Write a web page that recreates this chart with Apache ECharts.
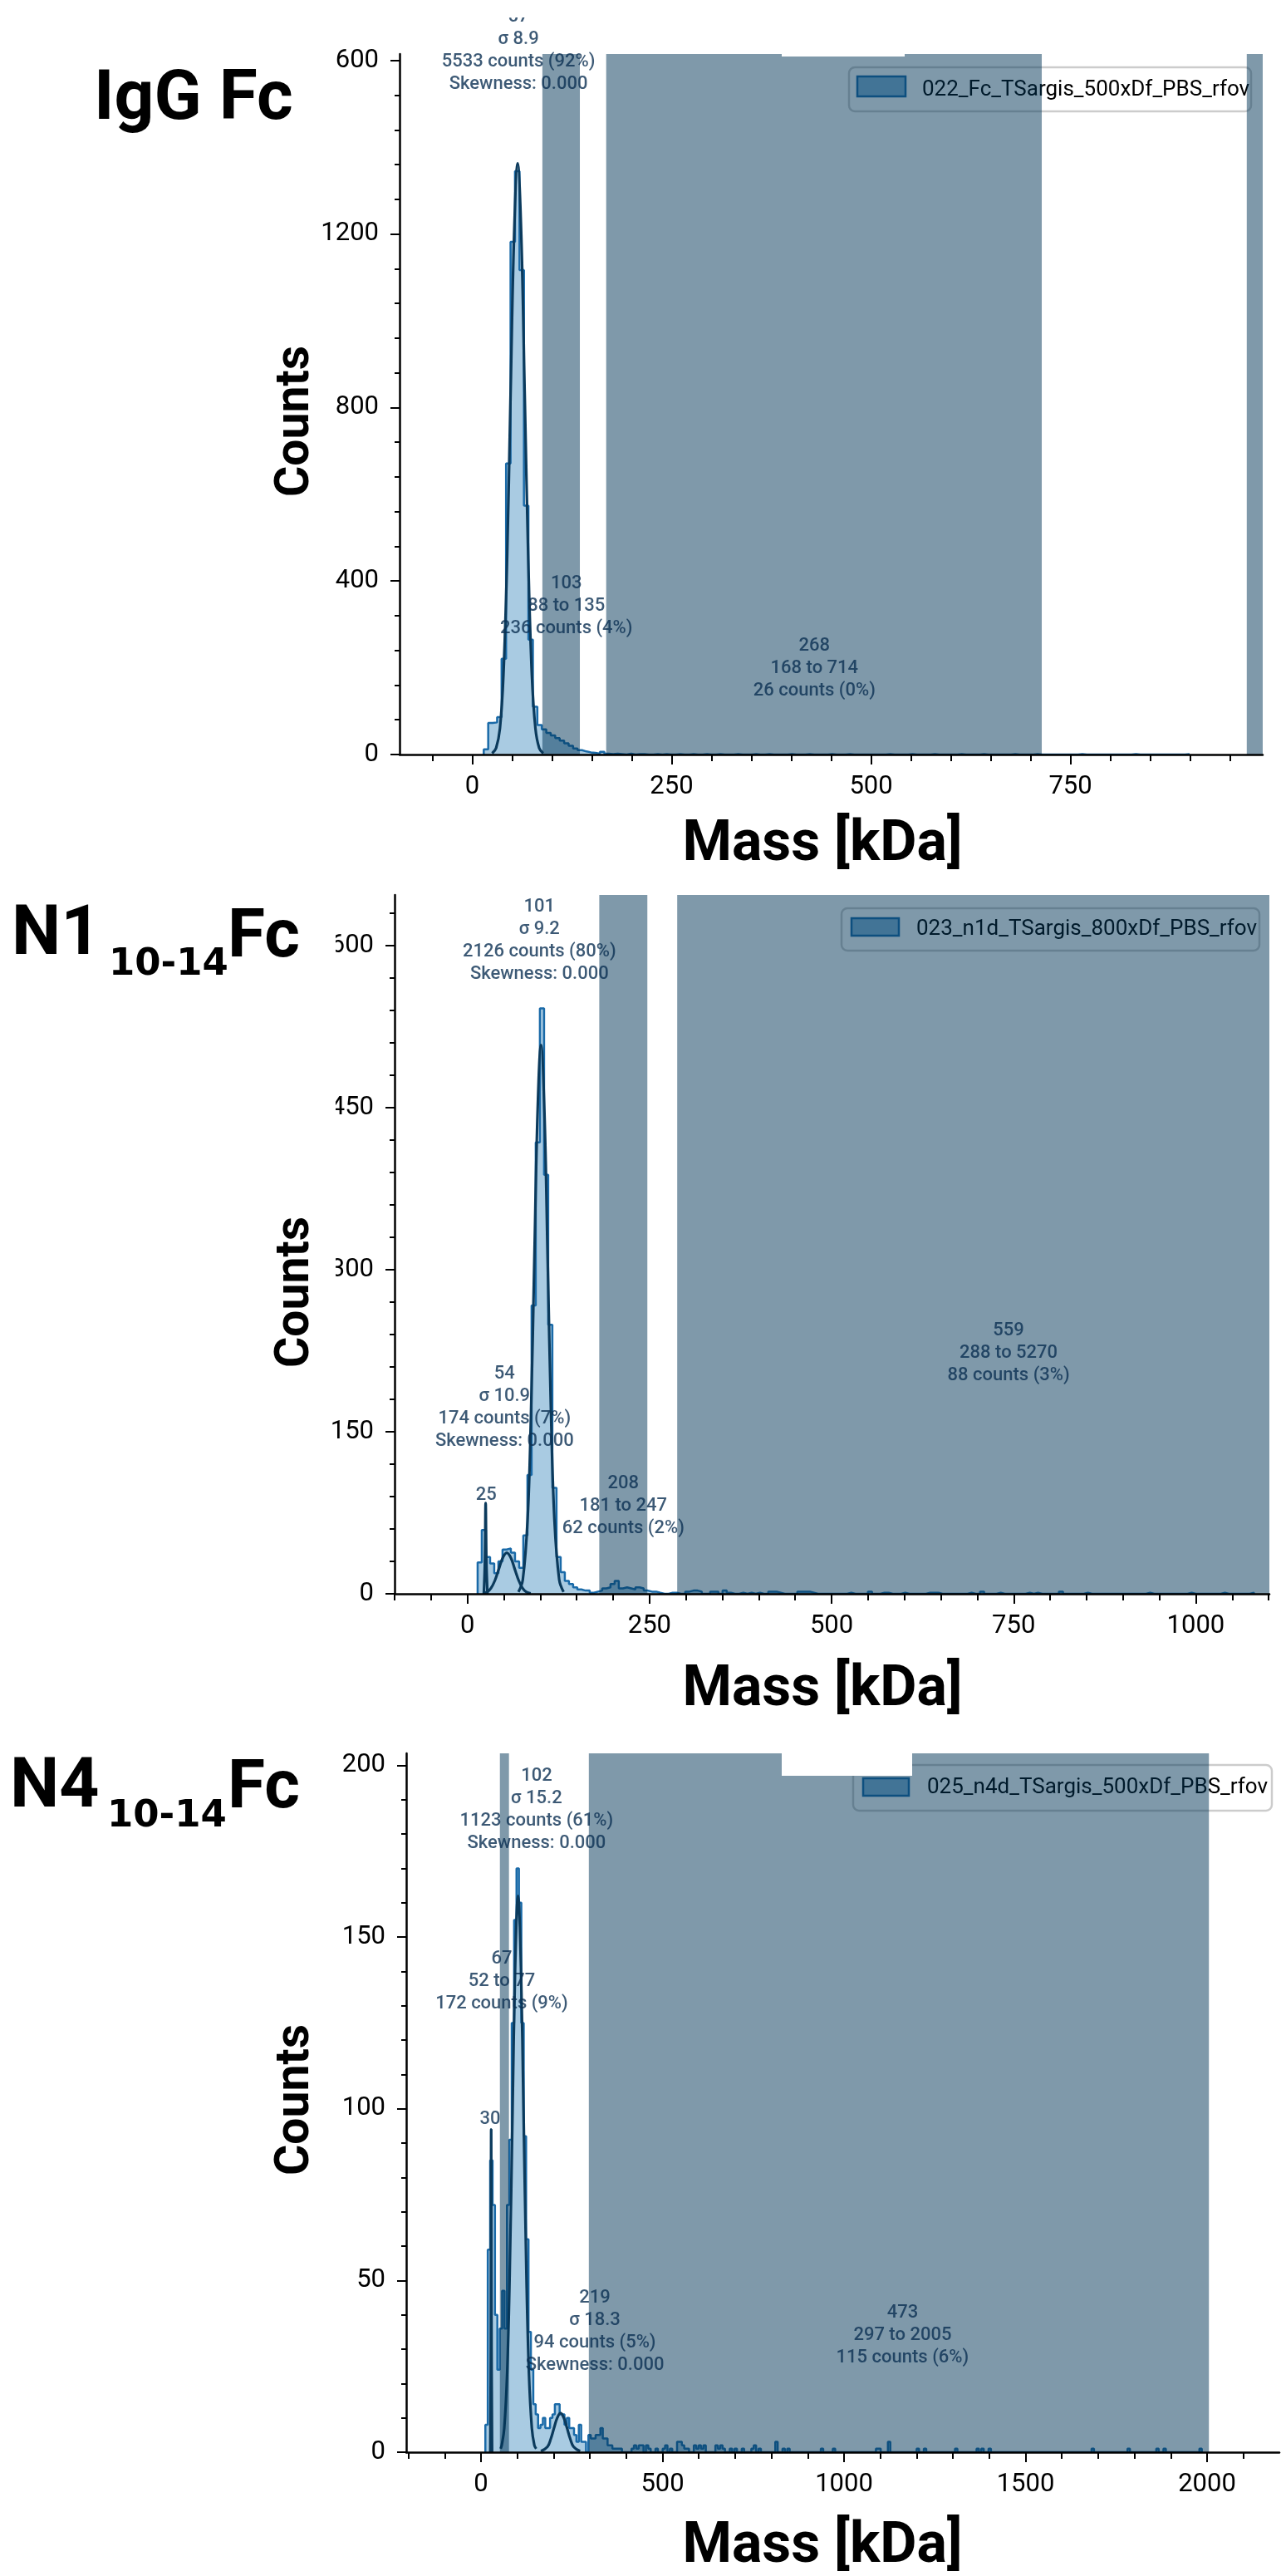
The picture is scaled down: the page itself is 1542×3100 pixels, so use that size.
<!DOCTYPE html>
<html>
<head>
<meta charset="utf-8">
<title>Mass photometry histograms</title>
<script src="https://cdn.jsdelivr.net/npm/echarts@6/dist/echarts.min.js"></script>
<style>
  html, body { margin: 0; padding: 0; background: #fff; }
  #chart { width: 1542px; height: 3100px; }
</style>
</head>
<body>
<div id="chart"></div>
<script>
// ---- IgG Fc ----
const fcBinStart = 14.5
const fcBinWidth = 5.6
const fcCounts = [12, 73, 74, 86, 221, 671, 1182, 1345, 1117, 574, 265, 110, 68,
  58, 50, 44, 38, 32, 26, 20, 14, 10, 7, 5, 4, 2, 6, 2, 1]
// sparse low bins [kDa, counts]
const fcTail = [[182, 2], [188, 1], [199, 2], [205, 1], [216, 1], [232, 1], [244, 1], [260, 1],
  [277, 1], [290, 1], [310, 1], [330, 1], [352, 1], [372, 1], [398, 1], [420, 1], [446, 1],
  [470, 1], [520, 1], [548, 1], [575, 1], [610, 1], [640, 1], [680, 1], [705, 1], [760, 1],
  [830, 1], [895, 1]]
const fcFit = [[25, 3], [30, 15], [34.8, 60], [39.2, 184], [43.7, 443], [48.1, 827], [52.6, 1200],
  [57, 1363], [61.5, 1200], [65.9, 827], [70.4, 443], [74.8, 184], [79.3, 60], [84, 15], [89, 3]]
const fcRegions = [[88, 135], [168, 714], [971, 1100]]
const fcNotes = [
  [58, 1622, '57\nσ 8.9\n5533 counts (92%)\nSkewness: 0.000'],
  [118, 342, '103\n88 to 135\n236 counts (4%)'],
  [429, 199, '268\n168 to 714\n26 counts (0%)']
]
const fcXTicks = [0, 250, 500, 750]
const fcYTicks = [0, 400, 800, 1200, 1600]

// ---- N1 10-14 Fc ----
const n1BinStart = 14
const n1BinWidth = 5.7
const n1Counts = [29, 59, 34, 28, 19, 30, 41, 42, 38, 30, 24, 54, 110, 267, 418, 542, 388, 249,
  98, 34, 20, 12, 9, 6, 4, 3, 3, 1, 2, 3, 5, 6, 9, 12, 5, 6, 5, 4, 6, 5, 3, 2, 2, 1, 0, 0, 1, 1]
const n1Tail = [[303, 2], [309, 3], [315, 3], [321, 2], [337, 2], [343, 2], [355, 3], [361, 1],
  [378, 1], [389, 1], [397, 1], [418, 2], [424, 2], [430, 1], [455, 2], [461, 2], [467, 2],
  [473, 1], [524, 1], [555, 2], [570, 1], [575, 1], [596, 1], [634, 1], [640, 1], [646, 1],
  [687, 1], [705, 2], [728, 1], [772, 1], [778, 1], [815, 2], [847, 1], [934, 1], [994, 1],
  [1035, 1], [1078, 1]]
const n1FitLow = [[22.5, 0], [24, 30], [25, 84], [26, 30], [27.5, 0]]
const n1FitMid = [[21, 0.4], [27, 1.6], [32.2, 5.1], [37.7, 12.3], [43.1, 23], [48.6, 33.5], [54, 38],
  [59.5, 33.5], [64.9, 23], [70.4, 12.3], [75.8, 5.1], [81, 1.6], [87, 0.4]]
const n1FitMain = [[70, 1.7], [76, 13], [82.6, 69], [87.2, 165], [91.8, 308], [96.4, 448], [101, 508],
  [105.6, 448], [110.2, 308], [114.8, 165], [119.4, 69], [126, 13], [132, 1.7]]
const n1Regions = [[181, 247], [288, 5270]]
const n1Notes = [
  [98.8, 605, '101\nσ 9.2\n2126 counts (80%)\nSkewness: 0.000'],
  [50.9, 172, '54\nσ 10.9\n174 counts (7%)\nSkewness: 0.000'],
  [25.8, 91, '25'],
  [214, 81, '208\n181 to 247\n62 counts (2%)'],
  [743, 223, '559\n288 to 5270\n88 counts (3%)']
]
const n1XTicks = [0, 250, 500, 750, 1000]
const n1YTicks = [0, 150, 300, 450, 600]

// ---- N4 10-14 Fc ----
const n4BinStart = 12
const n4BinWidth = 6.6
const n4Counts = [8, 59, 85, 72, 40, 24, 36, 47, 36, 72, 91, 125, 155, 170, 160, 125, 92, 62, 35,
  24, 14, 11, 7, 8, 10, 7, 7, 10, 11, 14, 14, 11, 11, 8, 10, 7, 7, 5, 3, 8, 3, 3, 0]
const n4Tail = [[298, 5], [305, 4], [311, 4], [318, 5], [324, 5], [331, 7], [338, 4], [344, 4],
  [351, 2], [358, 2], [364, 1], [371, 1], [378, 1], [384, 1], [420, 1], [427, 2], [434, 1],
  [440, 2], [447, 2], [460, 2], [467, 1], [486, 1], [506, 1], [513, 2], [524, 1], [543, 3],
  [549, 3], [556, 2], [563, 1], [570, 1], [590, 2], [597, 1], [603, 2], [610, 1], [617, 2],
  [649, 2], [656, 1], [663, 2], [670, 1], [690, 1], [700, 1], [720, 1], [748, 1], [755, 2],
  [768, 1], [812, 3], [835, 1], [845, 1], [940, 1], [970, 1], [1088, 1], [1100, 1], [1124, 3],
  [1200, 1], [1220, 1], [1308, 1], [1365, 1], [1381, 1], [1402, 1], [1688, 1], [1783, 1],
  [1860, 1], [1880, 1], [1980, 1]]
const n4FitLow = [[25.5, 0], [27, 30], [28, 94], [29, 30], [30.5, 0]]
const n4FitMain = [[54, 1], [57, 2], [64, 7], [72, 23], [79, 52], [87, 100], [94, 141], [102, 162],
  [110, 141], [117, 100], [125, 52], [132, 23], [140, 7], [147, 2], [152, 1]]
const n4FitHigh = [[165, 0.3], [183, 1.6], [192, 3.8], [201, 7], [210, 10], [219, 11.4], [228, 10],
  [237, 7], [246, 3.8], [255, 1.6], [273, 0.3]]
const n4Regions = [[52, 77], [297, 2005]]
const n4Notes = [
  [153, 187, '102\nσ 15.2\n1123 counts (61%)\nSkewness: 0.000'],
  [57, 137, '67\n52 to 77\n172 counts (9%)'],
  [25, 97, '30'],
  [313.5, 35, '219\nσ 18.3\n94 counts (5%)\nSkewness: 0.000'],
  [1161, 34, '473\n297 to 2005\n115 counts (6%)']
]
const n4XTicks = [0, 500, 1000, 1500, 2000]
const n4YTicks = [0, 50, 100, 150, 200]

const legendNames = ['022_Fc_TSargis_500xDf_PBS_rfov', '023_n1d_TSargis_800xDf_PBS_rfov',
  '025_n4d_TSargis_500xDf_PBS_rfov']

const font = 'Roboto'
const histEdge = '#1a6aa8'
const histFill = 'rgba(31,119,180,0.55)'
const fitColor = '#0b3a5c'
const shadeColor = 'rgba(0,51,85,0.5)'
const noteColor = '#0b3052'

const panels = [
  {
    grid: { left: 481, top: 65, width: 1039, height: 843 },
    xMin: -91, xMax: 991, yMax: 1615, xTicks: fcXTicks, xStep: 50, yTicks: fcYTicks, yStep: 80,
    binStart: fcBinStart, binWidth: fcBinWidth, counts: fcCounts, tail: fcTail,
    fits: [fcFit], regions: fcRegions, notes: fcNotes
  },
  {
    grid: { left: 475, top: 1077, width: 1053, height: 841 },
    xMin: -100, xMax: 1101, yMax: 647, xTicks: n1XTicks, xStep: 50, yTicks: n1YTicks, yStep: 30,
    binStart: n1BinStart, binWidth: n1BinWidth, counts: n1Counts, tail: n1Tail,
    fits: [n1FitLow, n1FitMid, n1FitMain], regions: n1Regions, notes: n1Notes
  },
  {
    grid: { left: 489, top: 2110, width: 1051, height: 841 },
    xMin: -206, xMax: 2199, yMax: 203.5, xTicks: n4XTicks, xStep: 100, yTicks: n4YTicks, yStep: 10,
    binStart: n4BinStart, binWidth: n4BinWidth, counts: n4Counts, tail: n4Tail,
    fits: [n4FitLow, n4FitMain, n4FitHigh], regions: n4Regions, notes: n4Notes
  }
]

function minorTicks(min, max, step, majors) {
  const out = []
  for (let v = Math.ceil(min / step) * step; v <= max; v += step) {
    if (!majors.includes(v)) out.push(v)
  }
  return out
}

// step outline of the histogram, tail bins added into the same bin grid
function stepData(start, width, counts, tail) {
  const bins = counts.slice()
  tail.forEach(([m, c]) => {
    const i = Math.floor((m - start) / width)
    while (bins.length <= i) bins.push(0)
    bins[i] += c
  })
  const pts = [[start, 0]]
  bins.forEach((c, i) => pts.push([start + i * width, c]))
  pts.push([start + bins.length * width, 0])
  return pts
}

const grids = []
const xAxes = []
const yAxes = []
const series = []

panels.forEach((p, gi) => {
  grids.push(Object.assign({ containLabel: false }, p.grid))
  const tickStyle = { color: '#000', width: 2 }
  const labelStyle = { fontFamily: font, fontSize: 31, color: '#000', formatter: v => String(v) }
  xAxes.push({
    gridIndex: gi, type: 'value', min: p.xMin, max: p.xMax, position: 'bottom', z: 8,
    axisLine: { show: true, onZero: false, lineStyle: { color: '#000', width: 2.5 } },
    axisTick: { show: true, customValues: p.xTicks, length: 12, lineStyle: tickStyle },
    axisLabel: Object.assign({ customValues: p.xTicks, margin: 24 }, labelStyle),
    splitLine: { show: false }
  })
  xAxes.push({
    gridIndex: gi, type: 'value', min: p.xMin, max: p.xMax, position: 'bottom', z: 8,
    axisLine: { show: false, onZero: false },
    axisTick: { show: true, customValues: minorTicks(p.xMin, p.xMax, p.xStep, p.xTicks), length: 8, lineStyle: tickStyle },
    axisLabel: { show: false },
    splitLine: { show: false }
  })
  yAxes.push({
    gridIndex: gi, type: 'value', min: 0, max: p.yMax, position: 'left', z: 8,
    axisLine: { show: true, onZero: false, lineStyle: { color: '#000', width: 2.5 } },
    axisTick: { show: true, customValues: p.yTicks, length: 11, lineStyle: tickStyle },
    axisLabel: Object.assign({ customValues: p.yTicks, margin: 25 }, labelStyle),
    splitLine: { show: false }
  })
  yAxes.push({
    gridIndex: gi, type: 'value', min: 0, max: p.yMax, position: 'left', z: 8,
    axisLine: { show: false, onZero: false },
    axisTick: { show: true, customValues: minorTicks(0, p.yMax, p.yStep, p.yTicks), length: 6, lineStyle: tickStyle },
    axisLabel: { show: false },
    splitLine: { show: false }
  })
  const xi = gi * 2
  const yi = gi * 2

  series.push({
    type: 'line', xAxisIndex: xi, yAxisIndex: yi, z: 2, silent: true,
    step: 'end', showSymbol: false,
    data: stepData(p.binStart, p.binWidth, p.counts, p.tail),
    lineStyle: { color: histEdge, width: 2.5 },
    areaStyle: { color: histFill }
  })
  p.fits.forEach(f => {
    series.push({
      type: 'line', xAxisIndex: xi, yAxisIndex: yi, z: 3, silent: true,
      smooth: 0.4, showSymbol: false, data: f,
      lineStyle: { color: fitColor, width: 3.2 }
    })
  })
  series.push({
    type: 'custom', xAxisIndex: xi, yAxisIndex: yi, z: 5, silent: true,
    data: p.regions.map(r => [r[0], r[1], 0]),
    encode: { x: [0, 1], y: 2 },
    renderItem(params, api) {
      const cs = params.coordSys
      const x0 = api.coord([api.value(0), 0])[0]
      const x1 = api.coord([api.value(1), 0])[0]
      const shape = echarts.graphic.clipRectByRect(
        { x: x0, y: cs.y, width: x1 - x0, height: cs.height },
        { x: cs.x, y: cs.y, width: cs.width, height: cs.height })
      return shape && { type: 'rect', shape: shape, style: { fill: shadeColor } }
    }
  })
  series.push({
    type: 'scatter', xAxisIndex: xi, yAxisIndex: yi, z: 10, silent: true, clip: false,
    symbolSize: 1, itemStyle: { color: 'rgba(0,0,0,0)' },
    data: p.notes.map(n => ({ value: [n[0], n[1]], label: { formatter: n[2] } })),
    label: {
      show: true, position: 'inside', color: noteColor, fontFamily: font, fontSize: 22,
      fontWeight: 500, lineHeight: 27, align: 'center', verticalAlign: 'middle'
    }
  })
})

function txt(x, y, text, size, opts) {
  return Object.assign({
    type: 'text', x: x, y: y, z: 30,
    style: Object.assign({
      text: text, fontFamily: font, fontSize: size, fontWeight: 'bold', fill: '#000',
      align: 'left', verticalAlign: 'middle'
    }, (opts && opts.style) || {})
  }, (opts && opts.el) || {})
}

function legendBox(box, patch, tx, ty, name) {
  return [
    { type: 'rect', z: 1, shape: { x: box[0], y: box[1], width: box[2], height: box[3], r: 7 },
      style: { fill: '#fff', stroke: 'rgba(0,0,0,0.2)', lineWidth: 2.5 } },
    { type: 'rect', z: 1, shape: { x: patch[0], y: patch[1], width: patch[2], height: patch[3] },
      style: { fill: histFill, stroke: histEdge, lineWidth: 2.5 } },
    { type: 'text', z: 1, x: tx, y: ty,
      style: { text: name, fontFamily: font, fontSize: 26, fill: '#000', align: 'left', verticalAlign: 'middle' } }
  ]
}

function cover(x, y, w, h) {
  return { type: 'rect', z: 50, shape: { x: x, y: y, width: w, height: h }, style: { fill: '#fff' } }
}

const subStyle = { style: { fontFamily: 'DejaVu Sans' } }

const graphics = [].concat(
  txt(113, 122, 'IgG Fc', 84),
  txt(14, 1127, 'N1', 84), txt(131, 1161, '10-14', 45, subStyle), txt(274, 1130, 'Fc', 82),
  txt(12, 2153, 'N4', 84), txt(129, 2186, '10-14', 45, subStyle), txt(274, 2154, 'Fc', 82),
  [507, 1555, 2527].map(y => txt(357, y, 'Counts', 57, { style: { align: 'center' }, el: { rotation: Math.PI / 2 } })),
  [1018, 2035, 3066].map(y => txt(990, y, 'Mass [kDa]', 68, { style: { align: 'center' } })),
  legendBox([1022, 81, 484, 53], [1032, 92, 58, 24], 1110, 108, legendNames[0]),
  legendBox([1013, 1093, 503, 51], [1025, 1105, 57, 21], 1103, 1118, legendNames[1]),
  legendBox([1027, 2124, 504, 55], [1039, 2140, 55, 21], 1116, 2151, legendNames[2]),
  cover(480, 0, 1062, 21),
  cover(381, 45, 22, 50),
  cover(941, 64, 148, 4),
  cover(381, 1100, 23, 460),
  cover(941, 2109, 157, 28)
)

const chart = echarts.init(document.getElementById('chart'))
chart.setOption({
  animation: false,
  backgroundColor: '#fff',
  grid: grids,
  xAxis: xAxes,
  yAxis: yAxes,
  series: series,
  graphic: { elements: graphics }
})
</script>
</body>
</html>
